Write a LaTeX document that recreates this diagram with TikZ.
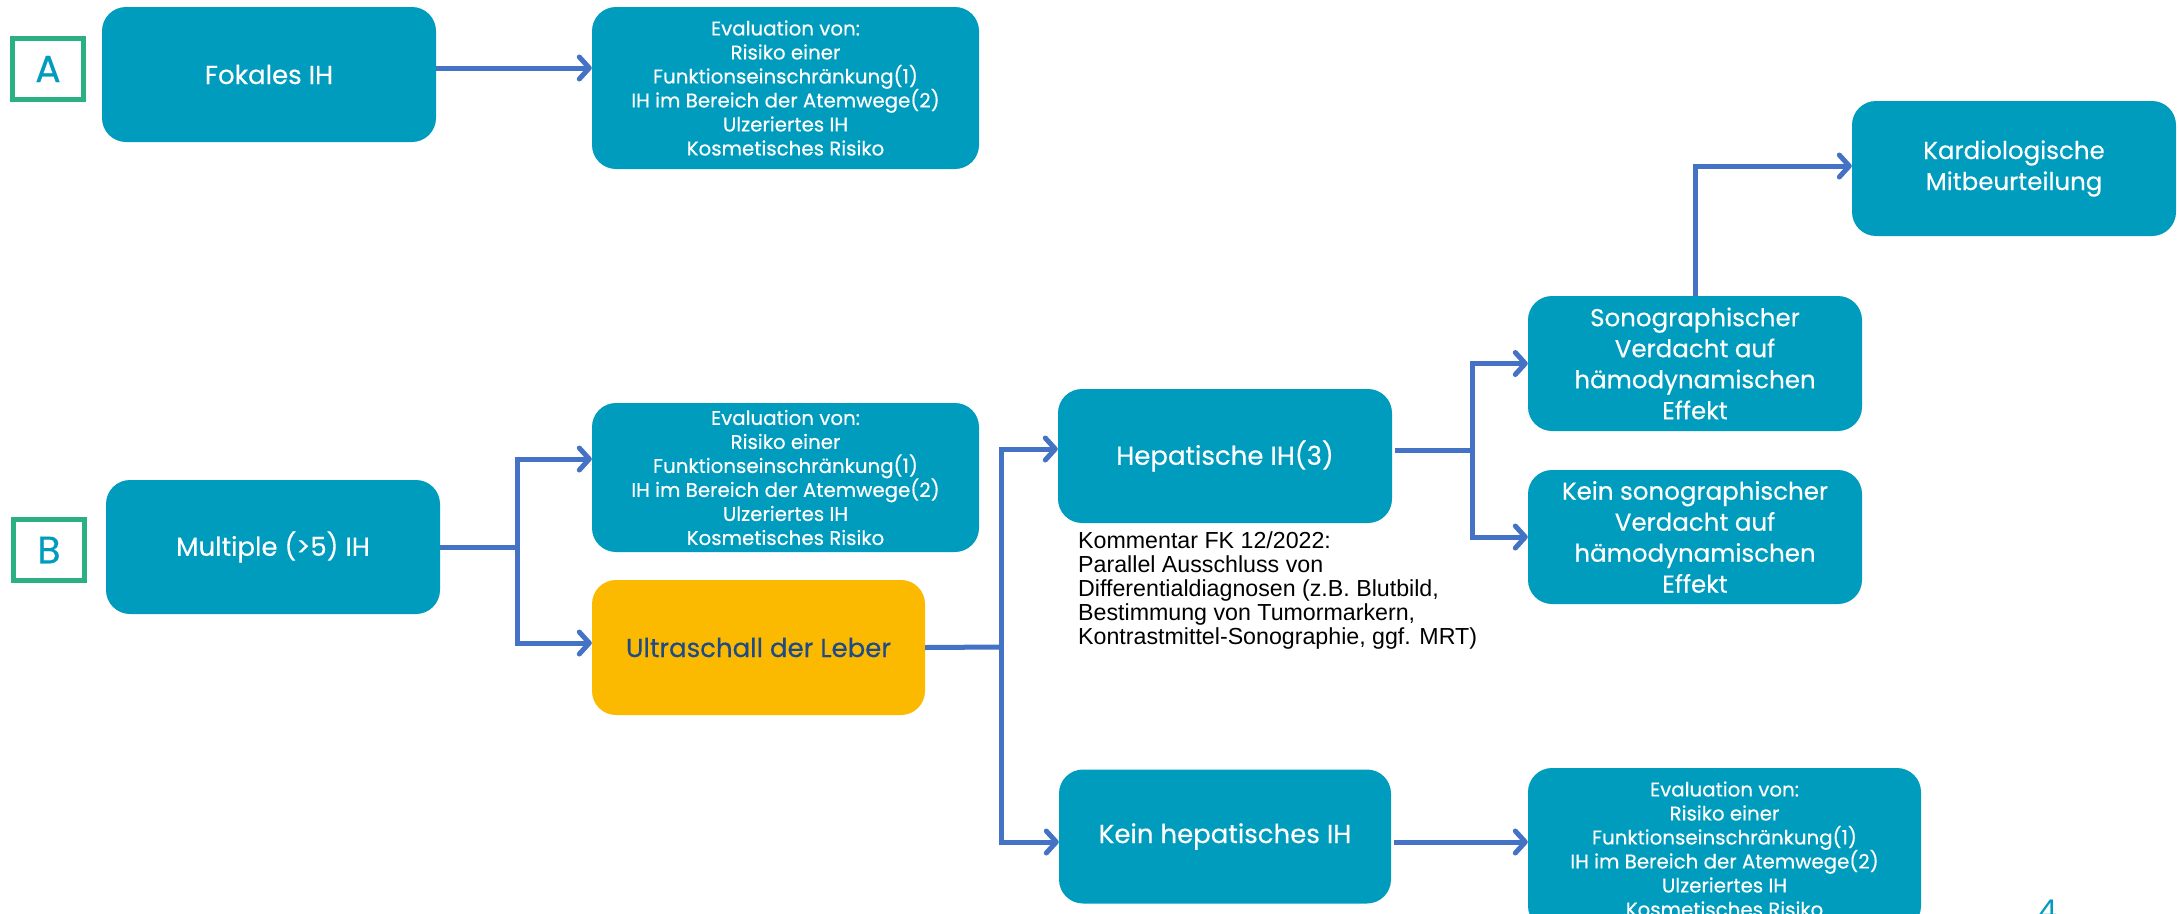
\documentclass[tikz,border=0pt]{standalone}
\usepackage{fontspec}
\setmainfont{Poppins}
\newfontfamily\boxfont{Poppins}[FakeBold=0.35]
\newfontfamily\arialf{Liberation Sans}
\usetikzlibrary{arrows.meta,calc}
\definecolor{boxteal}{HTML}{009CBE}
\definecolor{arrowblue}{HTML}{4472C4}
\definecolor{labelgreen}{HTML}{2BB084}
\definecolor{boxyellow}{HTML}{FBB900}
\definecolor{darknavy}{HTML}{1F4A88}
\begin{document}
\begin{tikzpicture}[x=1pt,y=-1pt,
  box/.style={fill=boxteal, rounded corners=24pt, text=white, align=center, inner sep=0pt,
    font=\boxfont\fontsize{26}{32}\selectfont},
  evalbox/.style={box, font=\boxfont\fontsize{19.8}{24}\selectfont},
  sonobox/.style={box, font=\boxfont\fontsize{24.5}{31}\selectfont},
  yelbox/.style={box, fill=boxyellow, text=darknavy},
  letterbox/.style={draw=labelgreen, line width=5pt, fill=white, text=boxteal, inner sep=0pt,
    font=\boxfont\fontsize{38}{38}\selectfont},
  ln/.style={draw=arrowblue, line width=5pt},
  arr/.style={ln, -{Straight Barb[length=10pt,width=22pt,line cap=round,line join=round]}},
  comment/.style={align=left, inner sep=0pt, anchor=north west, text=black,
    font=\arialf\fontsize{23.2}{24.2}\selectfont}
]
\useasboundingbox (0,0) rectangle (2179,913);
\clip (0,0) rectangle (2179,913);

% A row
\node[letterbox, minimum width=71pt, minimum height=61pt] (la) at (48,69) {A};
\node[box, minimum width=334pt, minimum height=135pt] (fok) at (269,74.5) {Fokales IH};
\node[evalbox, minimum width=387pt, minimum height=162pt] (eval1) at (785.5,88)
  {Evaluation von:\\Risiko einer\\Funktionseinschränkung(1)\\IH im Bereich der Atemwege(2)\\Ulzeriertes IH\\Kosmetisches Risiko};

% B row
\node[letterbox, minimum width=71pt, minimum height=61pt] (lb) at (49,550) {B};
\node[box, minimum width=334pt, minimum height=134pt] (mult) at (273,547) {Multiple (>5) IH};
\node[evalbox, minimum width=387pt, minimum height=149pt] (eval2) at (785.5,477.5)
  {Evaluation von:\\Risiko einer\\Funktionseinschränkung(1)\\IH im Bereich der Atemwege(2)\\Ulzeriertes IH\\Kosmetisches Risiko};
\node[yelbox, minimum width=333pt, minimum height=135pt] (ultra) at (758.5,647.5) {Ultraschall der Leber};

\node[box, minimum width=334pt, minimum height=134pt] (hep) at (1225,456) {Hepatische IH(3)};
\node[comment] (kom) at (1078,531)
  {Kommentar FK 12/2022:\\Parallel Ausschluss von\\Differentialdiagnosen (z.B. Blutbild,\\Bestimmung von Tumormarkern,\\Kontrastmittel-Sonographie, ggf. MRT)};
\node[box, minimum width=332pt, minimum height=134pt] (keinhep) at (1225,836.5) {Kein hepatisches IH};
\node[evalbox, minimum width=393pt, minimum height=162pt] (eval3) at (1724.5,849)
  {Evaluation von:\\Risiko einer\\Funktionseinschränkung(1)\\IH im Bereich der Atemwege(2)\\Ulzeriertes IH\\Kosmetisches Risiko};

\node[sonobox, minimum width=334pt, minimum height=135pt] (sono) at (1695,363.5)
  {Sonographischer\\Verdacht auf\\hämodynamischen\\Effekt};
\node[sonobox, minimum width=334pt, minimum height=134pt] (keinsono) at (1695,537)
  {Kein sonographischer\\Verdacht auf\\hämodynamischen\\Effekt};
\node[sonobox, minimum width=324pt, minimum height=135pt] (kardio) at (2014,168.5)
  {Kardiologische\\Mitbeurteilung};

\node[text=boxteal, font=\fontsize{30}{30}\selectfont, anchor=north, inner sep=0pt] (pg) at (2048,900) {4};

% junctions
\coordinate (jb) at (517,547);
\coordinate (ju) at (1001,647);
\coordinate (jh) at (1472,450);

% connectors
\draw[arr] ($(fok.east)+(0,-6.5)$) -- ($(eval1.west)+(0,-20)$);

\draw[ln] (mult.east) -- (jb);
\draw[arr] (jb) |- ($(eval2.west)+(0,-18.5)$);
\draw[arr] (jb) |- ($(ultra.west)+(0,-4.5)$);

\draw[ln] (ultra.east) -- (ju);
\draw[arr] (ju) |- ($(hep.west)+(0,-7)$);
\draw[arr] (ju) |- ($(keinhep.west)+(0,5.5)$);

\draw[ln] ($(hep.east)+(3,-6)$) -- (jh);
\draw[arr] (jh) |- (sono.west);
\draw[arr] (jh) |- (keinsono.west);

\draw[arr] ($(keinhep.east)+(3,5.5)$) -- ($(eval3.west)+(0,-7)$);

\draw[arr] (sono.north) |- ($(kardio.west)+(0,-2.5)$);
\end{tikzpicture}
\end{document}
